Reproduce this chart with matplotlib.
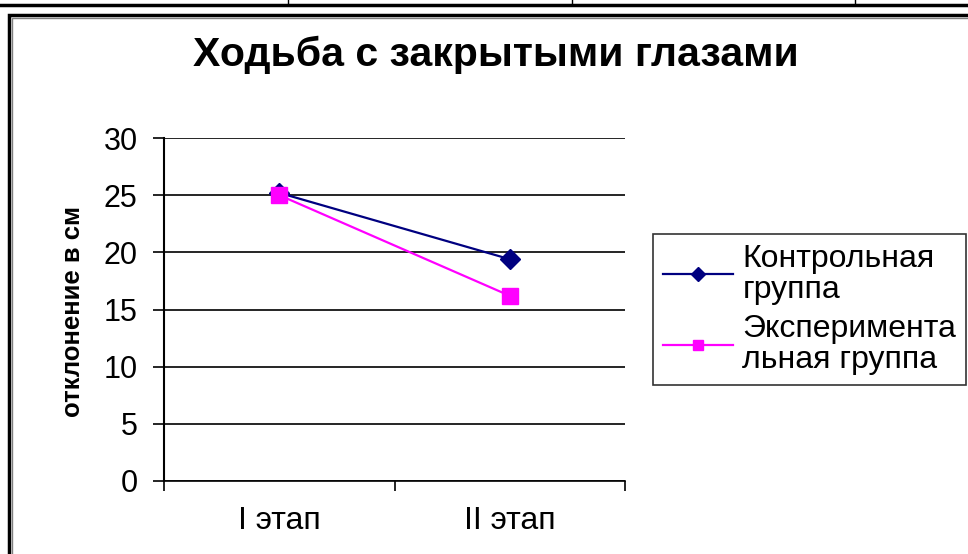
import matplotlib
matplotlib.use('Agg')
import matplotlib.pyplot as plt
from matplotlib.patches import Rectangle
from matplotlib.lines import Line2D

plt.rcParams['font.family'] = ['Liberation Sans', 'DejaVu Sans']

stages = ['I этап', 'II этап']
control = [25.2, 19.4]
experiment = [25.0, 16.2]
series_names = ['Контрольная\nгруппа', 'Эксперимента\nльная группа']
y_ticks = [0, 5, 10, 15, 20, 25, 30]

W, H = 968, 554
fig = plt.figure(figsize=(W / 100, H / 100), dpi=100)

# рамка таблицы сверху и рамка диаграммы
fig.add_artist(Line2D([0, 1], [1 - 5 / H, 1 - 5 / H], color='black', lw=2.5))
for xp in (288, 572, 855):
    fig.add_artist(Line2D([xp / W, xp / W], [1, 1 - 5 / H], color='black', lw=1))
fig.add_artist(Rectangle((9 / W, -0.1), 1.2, 1.1 - 15 / H, fill=False,
                         edgecolor='black', lw=2.5))
fig.add_artist(Rectangle((12 / W, -0.1), 1.2, 1.1 - 18 / H, fill=False,
                         edgecolor='#808080', lw=1))

ax = fig.add_axes([164 / W, 1 - 481 / H, (625 - 164) / W, (481 - 138) / H])
x = [0.5, 1.5]
ax.plot(x, control, color='#000080', lw=1.6, marker='D', ms=10,
        label=series_names[0])
ax.plot(x, experiment, color='#FF00FF', lw=1.6, marker='s', ms=11,
        label=series_names[1])

ax.set_xlim(0, 2)
ax.set_ylim(0, 30)
ax.set_yticks(y_ticks)
ax.yaxis.grid(True, color='black', lw=1.2)
ax.set_axisbelow(True)
ax.set_xticks([0, 1, 2])
ax.set_xticklabels([])
ax.set_xticks(x, minor=True)
ax.set_xticklabels(stages, minor=True, fontsize=23)
ax.tick_params(axis='x', which='minor', length=0, pad=18)
ax.tick_params(axis='x', which='major', length=7, width=1.2, direction='out')
ax.tick_params(axis='y', length=8, width=1.2, labelsize=22, pad=11)
for s in ('top', 'right'):
    ax.spines[s].set_visible(False)
ax.spines['left'].set_linewidth(1.5)
ax.spines['bottom'].set_linewidth(1.2)

ax.set_ylabel('отклонение в см', fontsize=18.5, fontweight='bold')
ax.yaxis.set_label_coords(-0.171, 0.495)
fig.text(496 / W, 1 - 66 / H, 'Ходьба с закрытыми глазами', ha='center',
         va='baseline', fontsize=29.5, fontweight='bold')

leg = fig.legend(loc='upper left', bbox_to_anchor=(653 / W, 1 - 234 / H),
                 fontsize=23, frameon=True, fancybox=False, edgecolor='black',
                 handlelength=2.2, handletextpad=0.3, borderaxespad=0,
                 labelspacing=0.3, borderpad=0.3)
leg.get_frame().set_linewidth(1.2)
for t in leg.get_texts():
    t.set_linespacing(1.05)
for h in leg.legend_handles:
    h.set_markersize(7)

fig.savefig('out.png', dpi=100)
